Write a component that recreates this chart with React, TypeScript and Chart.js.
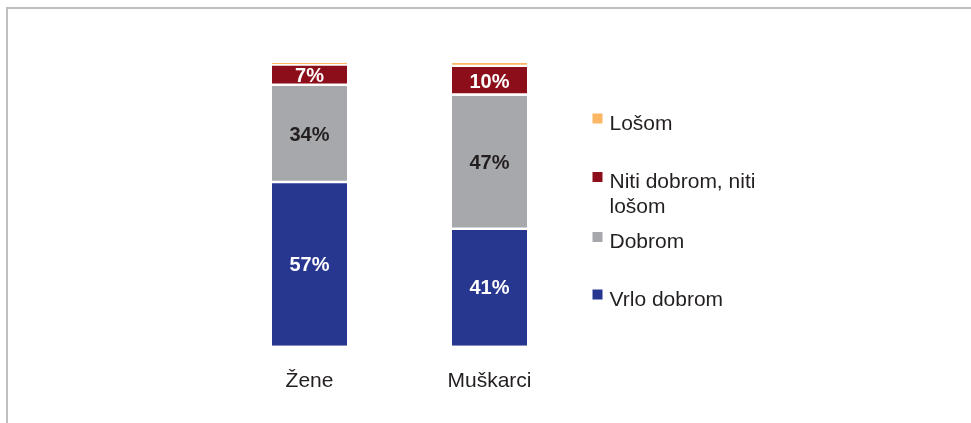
import React, { useEffect, useRef } from "react";
import { Chart, registerables } from "chart.js";

Chart.register(...registerables);

const categories = ["Žene", "Muškarci"];
const vrloDobrom = [57.4, 40.9];
const dobrom = [34.4, 47.4];
const nitiNiti = [7.2, 10.2];
const losom = [1.0, 1.5];

const legendLabels = [["Lošom"], ["Niti dobrom, niti", "lošom"], ["Dobrom"], ["Vrlo dobrom"]];

const BLUE = "#27378f";
const GRAY = "#a7a8ab";
const RED = "#8b0e1a";
const ORANGE = "#fbb764";
const TEXT = "#231f20";
const FRAME = "#c0c0c0";
const FONT = '"Liberation Sans", Arial, sans-serif';

const framePlugin = {
  id: "frame",
  beforeDraw(chart: any) {
    const ctx = chart.ctx;
    ctx.save();
    ctx.fillStyle = "#ffffff";
    ctx.fillRect(0, 0, chart.width, chart.height);
    ctx.strokeStyle = FRAME;
    ctx.lineWidth = 2;
    ctx.beginPath();
    ctx.moveTo(7, chart.height);
    ctx.lineTo(7, 8);
    ctx.lineTo(chart.width, 8);
    ctx.stroke();
    ctx.restore();
  },
};

const labelsPlugin = {
  id: "customLabels",
  afterDatasetsDraw(chart: any) {
    const ctx = chart.ctx;
    ctx.save();
    // segment value labels
    chart.data.datasets.forEach((ds: any, di: number) => {
      if (!ds.showLabel) return;
      const meta = chart.getDatasetMeta(di);
      meta.data.forEach((el: any, i: number) => {
        const v = ds.data[i];
        const { x, y } = el.getCenterPoint();
        ctx.font = `bold 20px ${FONT}`;
        ctx.fillStyle = ds.labelColor;
        ctx.textAlign = "center";
        ctx.textBaseline = "middle";
        ctx.fillText(`${Math.round(v)}%`, x, y + 1);
      });
    });
    // category labels
    const xs = chart.scales.x;
    ctx.font = `21px ${FONT}`;
    ctx.fillStyle = TEXT;
    ctx.textAlign = "center";
    ctx.textBaseline = "alphabetic";
    categories.forEach((c, i) => {
      ctx.fillText(c, xs.getPixelForValue(i), chart.chartArea.bottom + 41.5);
    });
    // legend
    const colors = [ORANGE, RED, GRAY, BLUE];
    const tops = [113.5, 172, 232, 289.5];
    const lx = chart.chartArea.right + 13;
    ctx.textAlign = "left";
    legendLabels.forEach((lines, i) => {
      ctx.fillStyle = colors[i];
      ctx.fillRect(lx, tops[i], 10, 10);
      ctx.fillStyle = TEXT;
      ctx.font = `21px ${FONT}`;
      lines.forEach((ln, j) => {
        ctx.fillText(ln, lx + 17, tops[i] + 16 + j * 25);
      });
    });
    ctx.restore();
  },
};

export default function App() {
  const ref = useRef<HTMLCanvasElement>(null);
  useEffect(() => {
    if (!ref.current) return;
    document.body.style.margin = "0";
    const sepBorder = { top: 0, bottom: 2.5, left: 0, right: 0 };
    const chart = new Chart(ref.current, {
      type: "bar",
      data: {
        labels: categories,
        datasets: [
          { label: "Vrlo dobrom", data: vrloDobrom, backgroundColor: BLUE, borderWidth: 0, showLabel: true, labelColor: "#ffffff" } as any,
          { label: "Dobrom", data: dobrom, backgroundColor: GRAY, borderColor: "#ffffff", borderWidth: sepBorder, borderSkipped: false, showLabel: true, labelColor: TEXT } as any,
          { label: "Niti dobrom, niti lošom", data: nitiNiti, backgroundColor: RED, borderColor: "#ffffff", borderWidth: sepBorder, borderSkipped: false, showLabel: true, labelColor: "#ffffff" } as any,
          { label: "Lošom", data: losom, backgroundColor: ORANGE, borderColor: "#ffffff", borderWidth: sepBorder, borderSkipped: false, showLabel: false } as any,
        ],
      },
      options: {
        responsive: false,
        animation: false,
        layout: { padding: { left: 219.5, right: 391.5, top: 62.7, bottom: 77.3 } },
        datasets: { bar: { categoryPercentage: 75 / 180, barPercentage: 1 } },
        scales: {
          x: { stacked: true, display: false },
          y: { stacked: true, display: false, min: 0, max: 100 },
        },
        plugins: { legend: { display: false }, tooltip: { enabled: false } },
      },
      plugins: [framePlugin, labelsPlugin],
    });
    return () => chart.destroy();
  }, []);
  return (
    <div style={{ position: "relative", width: 971, height: 423, overflow: "hidden" }}>
      <canvas ref={ref} width={971} height={423} style={{ display: "block" }} />
    </div>
  );
}
